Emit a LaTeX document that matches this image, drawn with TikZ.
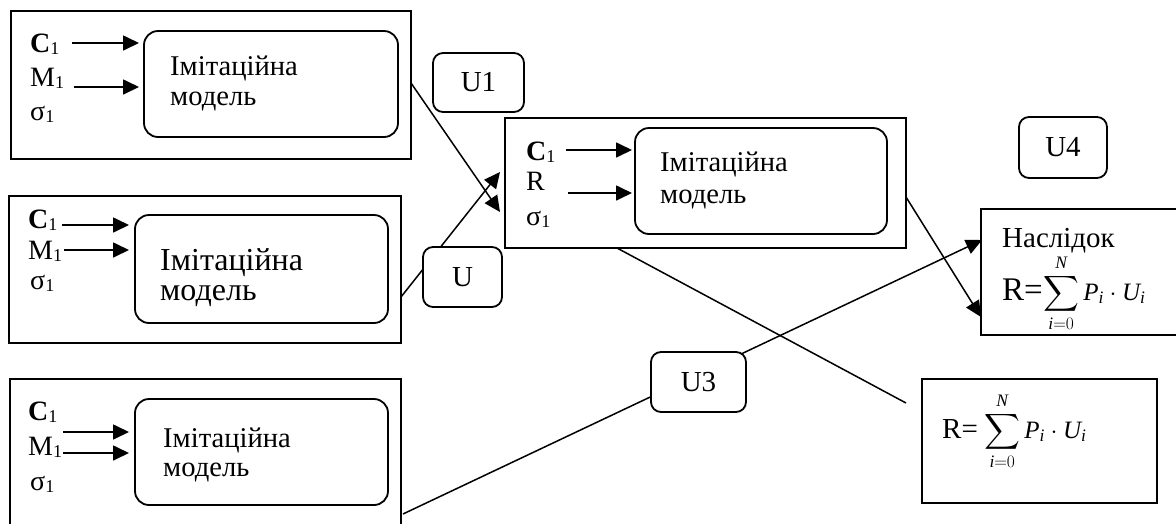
\RequirePackage{fix-cm}
\documentclass[tikz,border=0pt]{standalone}
\usepackage{amsmath}
\usepackage{fontspec}
\setmainfont{Liberation Serif}
\usetikzlibrary{arrows.meta,calc}
\newcommand{\sub}[1]{{\fontsize{18}{18}\selectfont\raisebox{-2pt}{#1}}}
\newcommand{\formula}{$\displaystyle\sum_{\textit{i}=0}^{\textit{N}}\textit{P}_{\textit{i}}\cdot\textit{U}_{\textit{i}}$}
\begin{document}
\begin{tikzpicture}[x=1pt,y=-1pt,
 box/.style={draw,line width=1.8pt,anchor=north west,inner sep=0pt,outer sep=0pt},
 rbox/.style={box,rounded corners=14pt},
 ubox/.style={draw,line width=1.8pt,rounded corners=10pt,fill=white,anchor=north west,inner sep=0pt,outer sep=0pt,font=\fontsize{29}{30}\selectfont},
 conn/.style={line width=1.5pt},
 tip/.style={-{Triangle[length=16pt,width=15pt]}},
 arr/.style={line width=1.7pt,tip},
 lbl/.style={anchor=base west,inner sep=0pt,font=\fontsize{28}{30}\selectfont},
 txt/.style={anchor=base west,inner sep=0pt,font=\fontsize{28.6}{30}\selectfont},
 bigtxt/.style={anchor=base west,inner sep=0pt,font=\fontsize{32}{34}\selectfont},
]
\useasboundingbox (0,0) rectangle (1176,523);
\clip (0,0) rectangle (1176,523);

% outer boxes
\node[box,minimum width=400pt,minimum height=148pt] (A) at (11,11) {};
\node[box,minimum width=392pt,minimum height=147pt] (B) at (9,196) {};
\node[box,minimum width=391pt,minimum height=170pt] (C) at (10,379) {};
\node[box,minimum width=401pt,minimum height=130pt] (D) at (505,118) {};
\node[box,minimum width=230pt,minimum height=126pt] (E) at (981,209) {};
\node[box,minimum width=235pt,minimum height=124pt] (F) at (922,379) {};

% inner rounded boxes
\node[rbox,minimum width=254pt,minimum height=106pt] (iA) at (144,31) {};
\node[rbox,minimum width=253pt,minimum height=108pt] (iB) at (135,215) {};
\node[rbox,minimum width=253pt,minimum height=106pt] (iC) at (135,399) {};
\node[rbox,minimum width=252pt,minimum height=106pt] (iD) at (635,128) {};

% box A texts
\node[lbl] (aC) at (30,52) {\textbf{C}\sub{1}};
\node[lbl] (aM) at (30,86) {M\sub{1}};
\node[lbl] (aS) at (30,120) {σ\sub{1}};
\node[txt] (aT1) at (170,75) {Імітаційна};
\node[txt] (aT2) at (170,105) {модель};
\coordinate (aa1) at (72,43);
\coordinate (aa2) at (74,87);
\draw[arr] (aa1) -- ($(iA.north west)+(-5,12)$);
\draw[arr] (aa2) -- ($(iA.north west)+(-5,56)$);

% box B texts
\node[lbl] (bC) at (28,228) {\textbf{C}\sub{1}};
\node[lbl] (bM) at (28,259) {M\sub{1}};
\node[lbl] (bS) at (30,289) {σ\sub{1}};
\node[bigtxt] (bT1) at (160,270) {Імітаційна};
\node[bigtxt] (bT2) at (160,300) {модель};
\coordinate (ba1) at (62,225);
\coordinate (ba2) at (64,250);
\draw[arr] (ba1) -- ($(iB.north west)+(-6,10)$);
\draw[arr] (ba2) -- ($(iB.north west)+(-6,35)$);

% box C texts
\node[lbl] (cC) at (28,420) {\textbf{C}\sub{1}};
\node[lbl] (cM) at (28,455) {M\sub{1}};
\node[lbl] (cS) at (30,490) {σ\sub{1}};
\node[txt] (cT1) at (163,447) {Імітаційна};
\node[txt] (cT2) at (163,476) {модель};
\coordinate (ca1) at (63,432);
\coordinate (ca2) at (63,453);
\draw[arr] (ca1) -- ($(iC.north west)+(-6,33)$);
\draw[arr] (ca2) -- ($(iC.north west)+(-6,54)$);

% box D texts
\node[lbl] (dC) at (526,160) {\textbf{C}\sub{1}};
\node[lbl] (dR) at (526,190) {R};
\node[lbl] (dS) at (526,225) {σ\sub{1}};
\node[txt] (dT1) at (660,171) {Імітаційна};
\node[txt] (dT2) at (660,203) {модель};
\coordinate (da1) at (566,150);
\coordinate (da2) at (568,193);
\draw[arr] (da1) -- ($(iD.north west)+(-3,22)$);
\draw[arr] (da2) -- ($(iD.north west)+(-3,65)$);

% box E texts
\node[anchor=base west,inner sep=0pt,font=\fontsize{29}{32}\selectfont] (eT) at (1002,247) {Наслідок};
\node[anchor=base west,inner sep=0pt,font=\fontsize{33}{36}\selectfont] (eR) at (1002,300) {R=};
\node[anchor=base west,inner sep=0pt,font=\fontsize{25}{28}\selectfont] (eF) at (eR.base east) {\formula};

% box F texts
\node[anchor=base west,inner sep=0pt,font=\fontsize{29}{32}\selectfont] (fR) at (942,438) {R=};
\node[anchor=base west,inner sep=0pt,font=\fontsize{25}{28}\selectfont] (fF) at ($(fR.base east)+(6,0)$) {\formula};

% connectors
\coordinate (t1) at ($(D.north west)+(-5,94)$);
\coordinate (t2) at ($(D.north west)+(-5,54)$);
\coordinate (t5) at ($(F.north west)+(-16,24)$);
\draw[conn,tip] ($(A.north east)+(0,72)$) -- (t1);
\draw[conn,tip] ($(B.north east)+(0,101)$) -- (t2);
\draw[conn,tip] ($(D.north east)+(0,79)$) -- ($(E.north west)+(0,108)$);
\draw[conn,tip] ($(C.north east)+(2,135)$) -- ($(E.north west)+(1,31)$);
\draw[conn] ($(D.south west)+(112,0)$) -- (t5);

% U boxes
\node[ubox,minimum width=91pt,minimum height=59pt] (U1) at (433,53) {U1};
\node[ubox,minimum width=79pt,minimum height=60pt] (U) at (423,247) {U};
\node[ubox,minimum width=95pt,minimum height=60pt] (U3) at (651,352) {U3};
\node[ubox,minimum width=88pt,minimum height=61pt] (U4) at (1019,117) {U4};
\end{tikzpicture}
\end{document}
